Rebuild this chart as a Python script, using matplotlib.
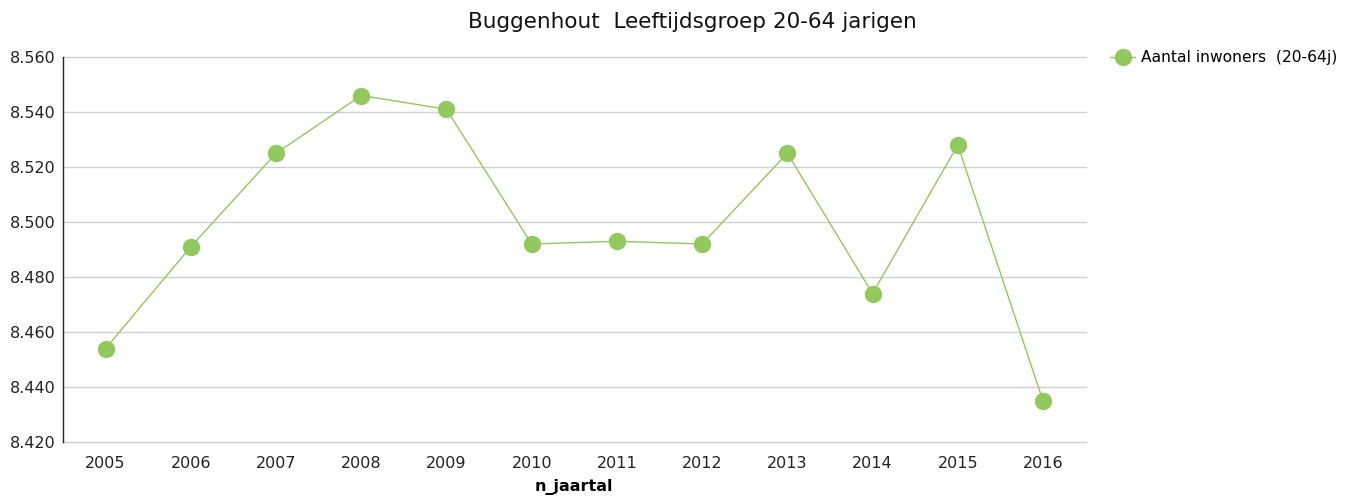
import matplotlib
matplotlib.use("Agg")
import matplotlib.pyplot as plt

years = ["2005", "2006", "2007", "2008", "2009", "2010", "2011", "2012", "2013", "2014", "2015", "2016"]
inwoners = [8454, 8491, 8525, 8546, 8541, 8492, 8493, 8492, 8525, 8474, 8528, 8435]
yticks = [8420, 8440, 8460, 8480, 8500, 8520, 8540, 8560]
ytick_labels = ["8.420", "8.440", "8.460", "8.480", "8.500", "8.520", "8.540", "8.560"]

plt.rcParams['font.family'] = ['DejaVu Sans']
green = "#92C85E"

fig = plt.figure(figsize=(13.52, 4.97), dpi=100)
ax = fig.add_axes([63/1352, 1-442/497, (1085.6-63)/1352, (442-57)/497])

x = list(range(len(years)))
ax.plot(x, inwoners, color=green, linewidth=1.0, marker="o", markersize=12.5,
        markeredgewidth=0, label="Aantal inwoners  (20-64j)")

ax.set_xlim(-0.5, len(years) - 0.5)
ax.set_ylim(8420, 8560)
ax.set_yticks(yticks)
ax.set_yticklabels(ytick_labels)
ax.set_xticks(x)
ax.set_xticklabels(years)
ax.tick_params(axis="both", length=0, labelsize=11.5, colors="#222222")
ax.tick_params(axis="x", pad=10)
ax.tick_params(axis="y", pad=5)
ax.grid(axis="y", color="#d0d0d0", linewidth=1.0)
for gl in ax.get_ygridlines():
    gl.set_clip_on(False)
ax.set_axisbelow(True)
for s in ["top", "right", "bottom"]:
    ax.spines[s].set_visible(False)
ax.spines["left"].set_color("#222222")
ax.spines["left"].set_linewidth(1.0)

ax.set_xlabel("n_jaartal", fontsize=11.5, fontweight="bold", labelpad=6)
fig.text(692/1352, 1-22/497, "Buggenhout  Leeftijdsgroep 20-64 jarigen",
         ha="center", va="center", fontsize=15.5, color="#111111")

leg = fig.legend(loc="upper left", bbox_to_anchor=(1104/1352, 1-44/497), frameon=False,
                 fontsize=11.2, handlelength=1.6, handletextpad=0.35, borderaxespad=0)

fig.savefig("out.png", dpi=100)
